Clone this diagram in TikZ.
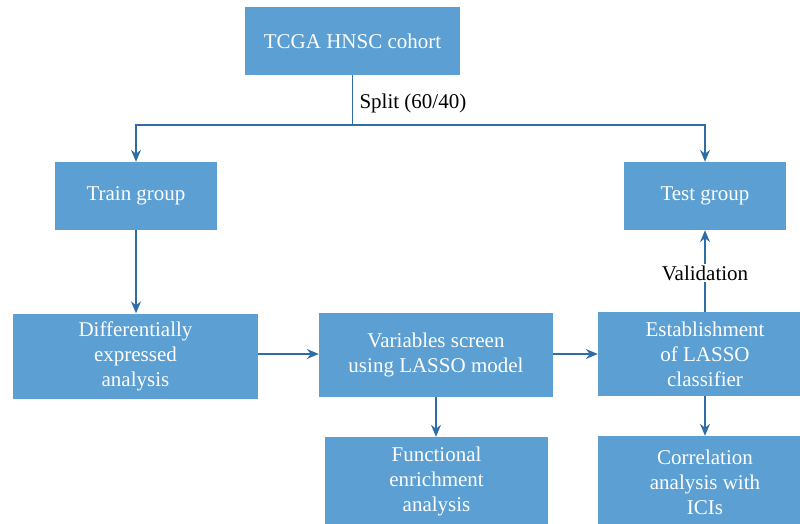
\documentclass[tikz,border=0pt]{standalone}
\usepackage{fontspec}
\setmainfont{Liberation Serif}
\usepackage{tikz}
\usetikzlibrary{arrows.meta}
\definecolor{boxblue}{RGB}{91,159,211}
\definecolor{lineblue}{RGB}{47,110,165}
\begin{document}
\begin{tikzpicture}[x=1pt,y=-1pt,
	font=\fontsize{21}{25}\selectfont,
	box/.style={rectangle,fill=boxblue,text=white,align=center,inner sep=0pt},
	conn/.style={draw=lineblue,line width=1.4pt,-{Stealth[length=12pt,width=10pt,inset=4pt]}},
	lbl/.style={text=black,fill=white,inner sep=2pt}]
				\useasboundingbox (0,0) rectangle (800,524);
				\clip (0,0) rectangle (800,524);
				\path 
				(352.5,41) node(cohort) [box,minimum width=215pt,minimum height=68pt] {TCGA HNSC cohort}
				(136,196) node(train) [box,minimum width=162pt,minimum height=68pt] {Train group}
				(705,196) node(test) [box,minimum width=162pt,minimum height=68pt] {Test group}
				(135.5,356) node(deg) [box,minimum width=245pt,minimum height=85pt] {Differentially\\expressed\\analysis}
				(436,355) node(screen) [box,minimum width=234pt,minimum height=84pt] {Variables screen\\using LASSO model}
				(705,354) node(lasso) [box,minimum width=214pt,minimum height=84pt] {Establishment\\of LASSO\\classifier}
				(436.5,481) node(enrich) [box,minimum width=223pt,minimum height=88pt] {Functional\\enrichment\\analysis}
				(705,482) node(ici) [box,minimum width=214pt,minimum height=92pt] {Correlation\\analysis with\\ICIs};
				\coordinate (split) at (352.5,125);
				\coordinate (row) at (0,354);
				\draw[draw=lineblue,line width=1.4pt] (cohort) -- node[right,text=black,xshift=3pt,yshift=-3pt] {Split (60/40)} (split);
				\draw[conn] (split) -| (train.north);
				\draw[conn] (split) -| (test.north);
				\draw   
				(train) edge[conn] (train|-deg.north)
				(deg.east|-row) edge[conn] (screen.west|-row)
				(screen.east|-row) edge[conn] (lasso.west|-row)
				(screen) edge[conn] (screen|-enrich.north)
				(lasso) edge[conn] (ici)
				(lasso) edge[conn] node[lbl,yshift=-2pt] {Validation} (test);
			\end{tikzpicture}
\end{document}
